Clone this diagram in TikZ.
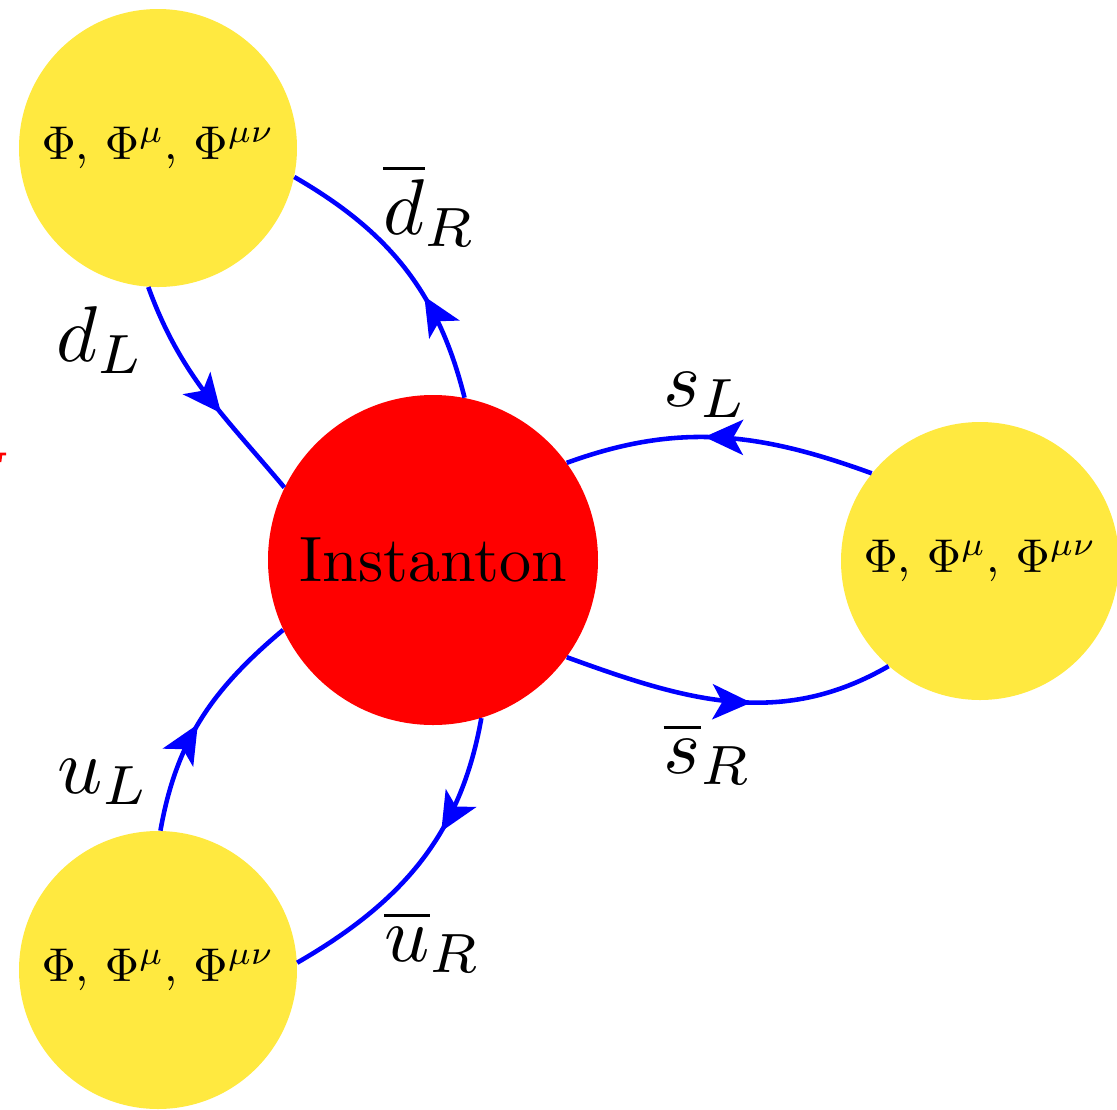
\documentclass[tikz,border=0pt]{standalone}
\usetikzlibrary{arrows.meta,decorations.markings}
\definecolor{yel}{RGB}{255,233,64}
\definecolor{lineblue}{RGB}{0,0,255}
\newcommand{\phis}{\scalebox{2.7}{$\Phi$, $\Phi^\mu$, $\Phi^{\mu\nu}$}}
\begin{document}
\begin{tikzpicture}[x=0.02cm,y=-0.02cm,
  blob/.style={circle,fill=yel,draw=none,inner sep=0pt,minimum size=278*0.02cm},
  inst/.style={circle,fill=red,draw=none,inner sep=0pt,minimum size=330*0.02cm},
  quark/.style={draw=lineblue,line width=2.6pt,postaction={decorate},
    decoration={markings,mark=at position #1 with {\arrow{Stealth[length=22pt,width=20pt,inset=5.5pt]}}}},
  lab/.style={inner sep=0pt}]
\useasboundingbox (0,0) rectangle (1117,1110);
\node[inst] (I) at (433,560) {\scalebox{3.65}{Instanton}};
\node[blob] (A) at (158,148) {\phis};
\node[blob] (B) at (980,561) {\phis};
\node[blob] (C) at (158,970) {\phis};
% quark lines
\draw[quark=0.6] (A.-94) to[out=-70,in=130] (I.154);
\draw[quark=0.38] (I.79) to[out=104,in=-30] (A.-12);
\draw[quark=0.55] (B.141) to[out=160,in=20] (I.36);
\draw[quark=0.57] (I.-36) to[out=-20,in=-150] (B.-131);
\draw[quark=0.47] (C.89) to[out=80,in=-140] (I.-155);
\draw[quark=0.38] (I.-73) to[out=-100,in=30] (C.3);
% labels
\node[lab] (ldL) at (101,340) {\scalebox{4.5}{$d_L$}};
\node[lab] (ldR) at (430,205) {\scalebox{4.5}{$\overline{d}_R$}};
\node[lab] (lsL) at (706,395) {\scalebox{4.5}{$s_L$}};
\node[lab] (lsR) at (708,754) {\scalebox{4.5}{$\overline{s}_R$}};
\node[lab] (luL) at (104,782) {\scalebox{4.5}{$u_L$}};
\node[lab] (luR) at (433,942) {\scalebox{4.5}{$\overline{u}_R$}};
% small red mark at left edge
\draw[red,line width=1.5pt] (0,462) -- (1,454) -- (6,454);
\end{tikzpicture}
\end{document}
